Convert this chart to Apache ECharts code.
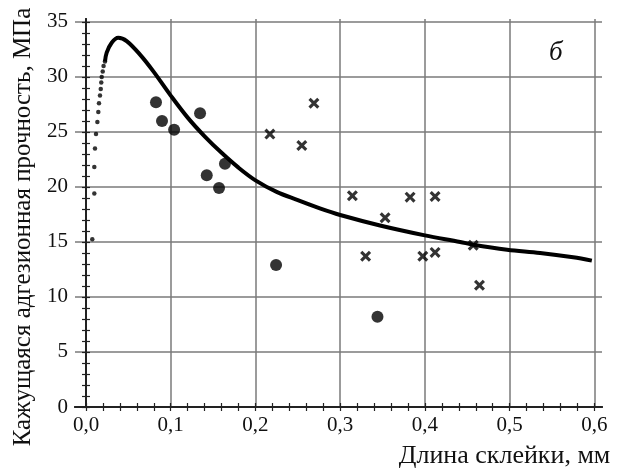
<!DOCTYPE html>
<html>
<head>
<meta charset="utf-8">
<script src="https://cdn.jsdelivr.net/npm/echarts@6/dist/echarts.min.js"></script>
<style>html,body{margin:0;padding:0;background:#fff}#c{width:621px;height:474px}</style>
</head>
<body>
<div id="c"></div>
<script>
// ---- data ----
var xMajorTicks = [0, 0.1, 0.2, 0.3, 0.4, 0.5, 0.6];
var yMajorTicks = [0, 5, 10, 15, 20, 25, 30, 35];
var xMinorTicks = [0,0.02,0.04,0.06,0.08,0.1,0.12,0.14,0.16,0.18,0.2,0.22,0.24,0.26,0.28,0.3,0.32,0.34,0.36,0.38,0.4,0.42,0.44,0.46,0.48,0.5,0.52,0.54,0.56,0.58,0.6];
var yMinorTicks = [0,1,2,3,4,5,6,7,8,9,10,11,12,13,14,15,16,17,18,19,20,21,22,23,24,25,26,27,28,29,30,31,32,33,34,35];

// rising part of the model curve, drawn as separate dots
var curveDotsX = [0.0074,0.0098,0.0098,0.0106,0.0118,0.0134,0.0145,0.0153,0.0165,0.0174,0.0180,0.0185,0.0197,0.0207,0.0224];
var curveDotsY = [15.25,19.4,21.8,23.5,24.8,25.9,26.8,27.6,28.3,28.9,29.5,30.0,30.5,31.0,31.4];

// continuous part of the model curve
var curveX = [0.0224,0.0244,0.0303,0.038,0.048,0.064,0.0795,0.1,0.12,0.14,0.16,0.18,0.2,0.225,0.25,0.276,0.300,0.347,0.400,0.4416,0.457,0.497,0.536,0.575,0.597];
var curveY = [31.4,32.2,33.1,33.55,33.25,32.0,30.5,28.3,26.3,24.6,23.1,21.75,20.6,19.55,18.8,18.05,17.45,16.5,15.6,15.0,14.75,14.3,14.0,13.6,13.3];

// experimental points: filled circles
var circleX = [0.0826,0.0897,0.104,0.1346,0.1425,0.157,0.164,0.2243,0.344];
var circleY = [27.7,26.0,25.2,26.7,21.06,19.9,22.1,12.9,8.2];

// experimental points: crosses
var crossX = [0.217,0.2547,0.269,0.3144,0.353,0.3825,0.412,0.330,0.3975,0.412,0.457,0.4644];
var crossY = [24.8,23.76,27.6,19.2,17.2,19.07,19.13,13.7,13.7,14.05,14.7,11.07];

var X_MIN = -0.013, X_MAX = 0.609, Y_MIN = 0, Y_MAX = 35.26;

function zip(a, b) { return a.map(function (v, i) { return [v, b[i]]; }); }

var FONT = '"Liberation Serif", "Times New Roman", serif';
var frame = { show: true, lineStyle: { color: '#222', width: 2 } };
var hidden = { show: false };
var minorTick = function (vals) {
  return { show: true, inside: true, length: 4, customValues: vals, lineStyle: { color: '#222', width: 1.2 } };
};

var chart = echarts.init(document.getElementById('c'), null, { renderer: 'canvas' });
chart.setOption({
  animation: false,
  backgroundColor: '#fff',
  title: {
    text: 'б', left: 544, top: 34,
    textStyle: { fontFamily: FONT, fontStyle: 'italic', fontWeight: 'normal', fontSize: 27, color: '#111' }
  },
  grid: { left: 75, right: 19, top: 19, bottom: 64, containLabel: false },
  xAxis: [
    {
      type: 'value', position: 'bottom', min: X_MIN, max: X_MAX,
      axisLine: frame,
      axisTick: { show: false, customValues: xMajorTicks },
      axisLabel: {
        customValues: xMajorTicks, margin: 8,
        formatter: function (v) { return v.toFixed(1).replace('.', ','); },
        fontFamily: FONT, fontSize: 21, color: '#111'
      },
      splitLine: { show: true, lineStyle: { color: '#7a7a7a', width: 1.5 } },
      name: 'Длина склейки, мм', nameLocation: 'middle', nameGap: 36,
      nameTextStyle: { fontFamily: FONT, fontSize: 26, color: '#111', padding: [0, 0, 0, 332] }
    },
    {
      type: 'value', position: 'bottom', min: X_MIN, max: X_MAX,
      axisLine: hidden, axisTick: minorTick(xMinorTicks), axisLabel: hidden, splitLine: hidden
    },
    {
      type: 'value', position: 'top', min: X_MIN, max: X_MAX,
      axisLine: frame, axisTick: minorTick(xMinorTicks), axisLabel: hidden, splitLine: hidden
    }
  ],
  yAxis: [
    {
      type: 'value', position: 'left', min: Y_MIN, max: Y_MAX,
      axisLine: frame,
      axisTick: { show: false, customValues: yMajorTicks },
      axisLabel: { customValues: yMajorTicks, margin: 7, fontFamily: FONT, fontSize: 21, color: '#111' },
      splitLine: { show: true, lineStyle: { color: '#7a7a7a', width: 1.5 } },
      name: 'Кажущаяся адгезионная прочность, МПа', nameLocation: 'middle', nameGap: 34, nameRotate: 90,
      nameTextStyle: { fontFamily: FONT, fontSize: 25, color: '#111', padding: [0, 28, 0, 0] }
    },
    {
      type: 'value', position: 'left', min: Y_MIN, max: Y_MAX,
      axisLine: hidden, axisTick: minorTick(yMinorTicks), axisLabel: hidden, splitLine: hidden
    },
    {
      type: 'value', position: 'right', min: Y_MIN, max: Y_MAX,
      axisLine: frame, axisTick: minorTick(yMinorTicks), axisLabel: hidden, splitLine: hidden
    }
  ],
  series: [
    {
      type: 'scatter', xAxisIndex: 0, yAxisIndex: 0,
      data: zip(curveDotsX, curveDotsY), symbol: 'circle', symbolSize: 4.5,
      itemStyle: { color: '#000' }, z: 3
    },
    {
      type: 'line', xAxisIndex: 0, yAxisIndex: 0,
      data: zip(curveX, curveY), smooth: 0.35, showSymbol: false, symbol: 'none',
      lineStyle: { color: '#000', width: 4 }, z: 3
    },
    {
      type: 'scatter', xAxisIndex: 0, yAxisIndex: 0,
      data: zip(circleX, circleY), symbol: 'circle', symbolSize: 12,
      itemStyle: { color: '#000' }, z: 4
    },
    {
      type: 'scatter', xAxisIndex: 0, yAxisIndex: 0,
      data: zip(crossX, crossY),
      symbol: 'path://M0,2 L2,0 L5,3 L8,0 L10,2 L7,5 L10,8 L8,10 L5,7 L2,10 L0,8 L3,5 Z',
      symbolSize: 11, itemStyle: { color: '#000' }, z: 4
    }
  ]
});
</script>
</body>
</html>
